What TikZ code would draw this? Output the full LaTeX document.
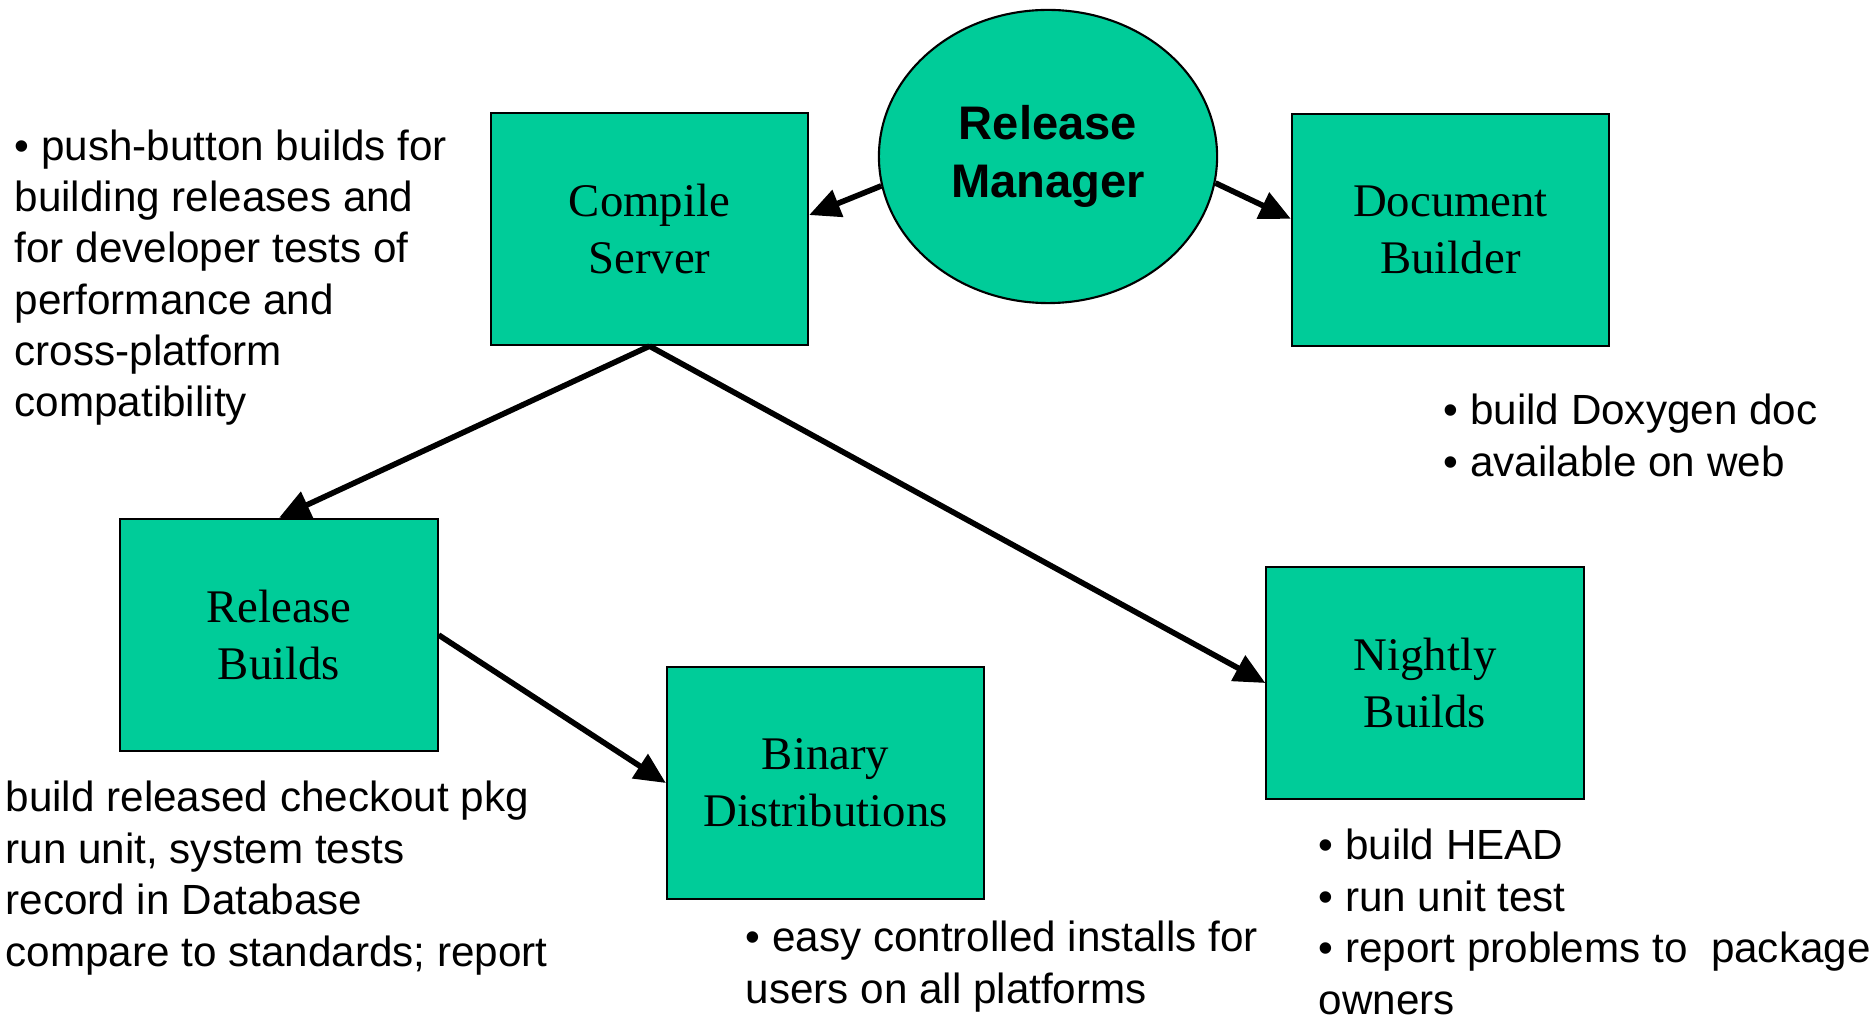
\documentclass[tikz,border=0pt]{standalone}
\usepackage{fontspec}
\setmainfont{Liberation Sans}
\newfontfamily\boxfont{Liberation Serif}
\usetikzlibrary{arrows.meta,shapes.geometric}
\definecolor{teal}{RGB}{0,204,153}
\tikzset{
  box/.style={draw=black, line width=0.6pt, fill=teal, rectangle,
    minimum width=3.17cm, minimum height=2.32cm, inner sep=0pt,
    align=center, font=\boxfont\fontsize{13.3}{16.3}\selectfont},
  hub/.style={draw=black, line width=0.6pt, fill=teal, ellipse,
    minimum width=3.38cm, minimum height=2.93cm, inner sep=0pt,
    align=center, font=\bfseries\fontsize{13.4}{16.3}\selectfont},
  % anchored at the baseline of the last line
  note/.style={anchor=base west, align=left, inner sep=0pt,
    font=\fontsize{12}{14.6}\selectfont},
  flow/.style={line width=1.6pt, -{Triangle[length=0.31cm,width=0.28cm]}}
}
\begin{document}
\begin{tikzpicture}[x=0.01cm,y=-0.01cm]
\useasboundingbox (0,0) rectangle (1874,1016);

% main blocks
\node[box] (cs) at (649.5,229) {Compile\\Server};
\node[hub] (rm) at (1048,156.5) {Release\\Manager};
\node[box] (db) at (1450.5,230) {Document\\Builder};
\node[box] (rb) at (279,635) {Release\\Builds};
\node[box] (bd) at (825.5,783) {Binary\\Distributions};
\node[box] (nb) at (1425,683) {Nightly\\Builds};

% connectors
\draw[flow] (rm.190) -- (cs.5);
\draw[flow] (rm.351) -- (db.176);
\draw[flow] (cs.south) -- (rb.north);
\draw[flow] (cs.south) -- (nb.west);
\draw[flow] (rb.east) -- (bd.west);

% notes
\node[note] (n1) at (14,417) {• push-button builds for\\building releases and\\for developer tests of\\performance and\\cross-platform\\compatibility};
\node[note] (n2) at (1443,476) {• build Doxygen doc\\• available on web};
\node[note] (n3) at (5,966) {build released checkout pkg\\run unit, system tests\\record in Database\\compare to standards; report};
\node[note] (n4) at (745,1003) {• easy controlled installs for\\users on all platforms};
\node[note] (n5) at (1318,1014) {• build HEAD\\• run unit test\\• report problems to\ \ package\\owners};
\end{tikzpicture}
\end{document}
